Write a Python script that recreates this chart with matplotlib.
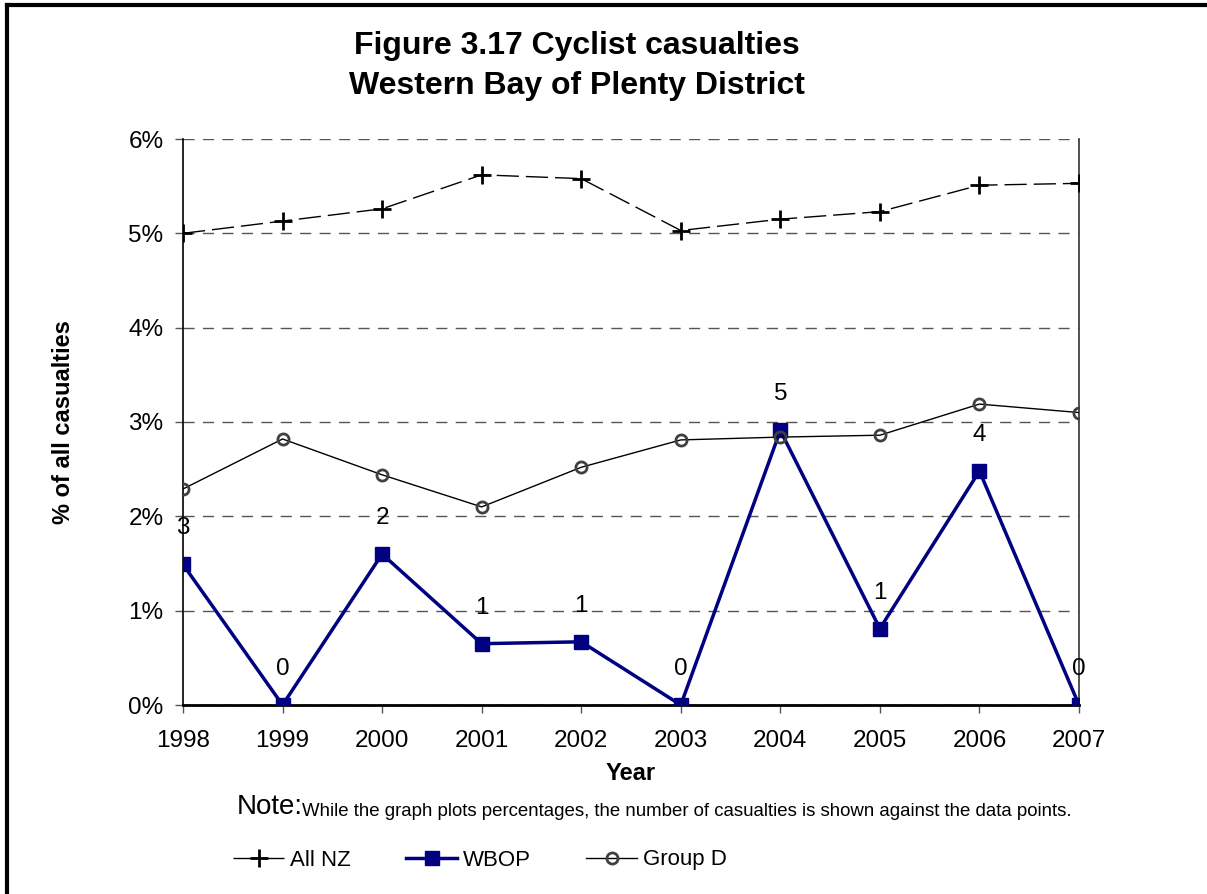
import numpy as np
import matplotlib.pyplot as plt
from matplotlib.lines import Line2D

plt.rcParams['font.family'] = ['Liberation Sans', 'DejaVu Sans']

years = ['1998', '1999', '2000', '2001', '2002', '2003', '2004', '2005', '2006', '2007']
all_nz = [5.00, 5.13, 5.26, 5.62, 5.58, 5.03, 5.15, 5.23, 5.51, 5.53]
group_d = [2.29, 2.82, 2.44, 2.10, 2.52, 2.81, 2.84, 2.86, 3.19, 3.10]
wbop = [1.49, 0.0, 1.60, 0.65, 0.67, 0.0, 2.91, 0.81, 2.48, 0.0]
wbop_counts = ['3', '0', '2', '1', '1', '0', '5', '1', '4', '0']

fig = plt.figure(figsize=(12.07, 8.94), dpi=100)
ax = fig.add_axes([183 / 1207, 1 - 705 / 894, (1079 - 183) / 1207, (705 - 139) / 894])

x = np.arange(len(years))

ax.plot(x, all_nz, color='black', lw=1, dashes=(16, 5), marker='+',
        markersize=13, markeredgewidth=2, label='All NZ', zorder=3)
ax.plot(x, wbop, color='#000080', lw=2.5, marker='s', markersize=10,
        label='WBOP', zorder=4)
ax.plot(x, group_d, color='black', lw=1, marker='o', markersize=8,
        markerfacecolor='none', markeredgecolor='#404040', markeredgewidth=2,
        label='Group D', zorder=5)

for xi, yi, txt in zip(x, wbop, wbop_counts):
    ax.annotate(txt, (xi, yi), xytext=(0, 36), textcoords='offset pixels',
                ha='center', va='center', fontsize=17.5)

ax.set_xlim(0, len(years) - 1)
ax.set_ylim(0, 6)
ax.set_xticks(x)
ax.set_xticklabels(years, fontsize=17.5)
ax.set_yticks(range(7))
ax.set_yticklabels(['%d%%' % v for v in range(7)], fontsize=17.5)
ax.tick_params(axis='both', direction='out', length=6, width=1, color='#555555')
ax.tick_params(axis='x', pad=12)
ax.tick_params(axis='y', pad=8)

ax.grid(axis='y', color='#555555', lw=1, dashes=(8, 6))
ax.set_axisbelow(True)
ax.spines['top'].set_visible(False)
ax.spines['left'].set_color('black')
ax.spines['left'].set_linewidth(1.2)
ax.spines['bottom'].set_color('black')
ax.spines['bottom'].set_linewidth(2)
ax.spines['right'].set_color('#333333')
ax.spines['right'].set_linewidth(1.2)
ax.spines['right'].set_zorder(1)

ax.set_xlabel('Year', fontsize=17, fontweight='bold', labelpad=7)
ax.set_ylabel('% of all casualties', fontsize=17, fontweight='bold')
ax.yaxis.set_label_coords(-108 / 896, 0.5)

fig.text(577 / 1207, 1 - 66 / 894, 'Figure 3.17 Cyclist casualties\nWestern Bay of Plenty District',
         ha='center', va='center', fontsize=23, fontweight='bold', linespacing=1.4)

fig.text(237 / 1207, 1 - 807 / 894, 'Note:', fontsize=20, va='center')
fig.text(302 / 1207, 1 - 811 / 894,
         'While the graph plots percentages, the number of casualties is shown against the data points.',
         fontsize=13.4, va='center')

handles, labels = ax.get_legend_handles_labels()
leg = fig.legend(handles, labels, loc='center left', bbox_to_anchor=(233 / 1207, 1 - 860 / 894),
                 ncol=3, frameon=False, fontsize=16, handlelength=2.3, columnspacing=2.5,
                 handletextpad=0.25, borderpad=0, borderaxespad=0)

fig.add_artist(Line2D([7 / 1207, 7 / 1207], [0, 1 - 5 / 894], color='black', lw=3,
                      transform=fig.transFigure))
fig.add_artist(Line2D([7 / 1207, 1], [1 - 5 / 894, 1 - 5 / 894], color='black', lw=3,
                      transform=fig.transFigure))

fig.savefig('out.png', dpi=100)
